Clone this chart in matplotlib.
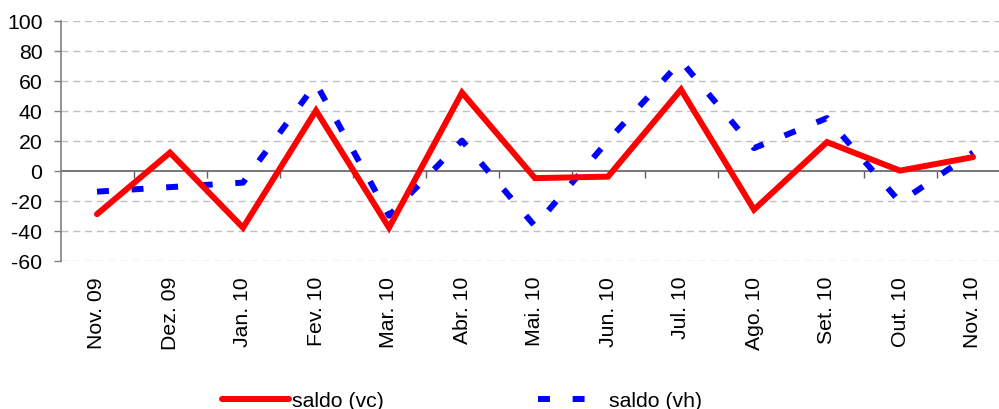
import matplotlib
matplotlib.use("Agg")
import matplotlib.pyplot as plt
import numpy as np

months = ["Nov. 09", "Dez. 09", "Jan. 10", "Fev. 10", "Mar. 10", "Abr. 10", "Mai. 10",
          "Jun. 10", "Jul. 10", "Ago. 10", "Set. 10", "Out. 10", "Nov. 10"]
saldo_vc = [-29, 12, -38, 40, -38, 52, -5, -4, 54, -26, 19, 0, 9]
saldo_vh = [-14, -11, -8, 58, -30, 20, -37, 20, 73, 15, 35, -21, 12]
y_ticks = [-60, -40, -20, 0, 20, 40, 60, 80, 100]

plt.rcParams['font.family'] = ['Liberation Sans', 'DejaVu Sans']
plt.rcParams['axes.unicode_minus'] = False
FS = 15.3

fig = plt.figure(figsize=(9.99, 4.10), dpi=100)
W, H = 999, 410
left_px, top_px, bottom_px = 60.5, 21.5, 261.7
cat_w = 73.0
ax = fig.add_axes([left_px / W, 1 - bottom_px / H, 13 * cat_w / W, (bottom_px - top_px) / H])

x = np.arange(len(months))
ax.plot(x, saldo_vc, color='#FF0000', lw=4.3, solid_capstyle='round', solid_joinstyle='miter',
        label='saldo (vc)', zorder=4)
ax.plot(x, saldo_vh, color='#0000FF', lw=4.3, dashes=(2.0, 3.8), dash_capstyle='butt',
        label='saldo (vh)', zorder=3)

ax.set_xlim(-0.5, len(months) - 0.5)
ax.set_ylim(-60, 100)
ax.set_yticks(y_ticks)
ax.tick_params(axis='y', direction='out', length=5, width=1, color='#808080', pad=8, labelsize=FS)

# grid lines (dashed), excluding zero
for v in y_ticks:
    if v != 0:
        ax.axhline(v, color='#C0C0C0', lw=1, dashes=(5, 3.5), zorder=1)

for s in ['top', 'right']:
    ax.spines[s].set_visible(False)
ax.spines['left'].set_color('#808080')
ax.spines['left'].set_linewidth(1.2)
ax.spines['bottom'].set_position(('data', 0))
ax.spines['bottom'].set_color('#606060')
ax.spines['bottom'].set_linewidth(1.2)
ax.spines['bottom'].set_zorder(2)

# boundary ticks on the zero line
ax.set_xticks(np.arange(0.5, len(months) - 0.5, 1.0))
ax.set_xticklabels([])
ax.tick_params(axis='x', direction='out', length=5, width=1, color='#606060')

# category labels at the bottom
sec = ax.secondary_xaxis(0.0)
sec.set_xticks(x)
sec.set_xticklabels(months, rotation=90, fontsize=FS)
sec.tick_params(axis='x', length=0, pad=11)
sec.spines['bottom'].set_visible(False)

leg = fig.legend(loc='upper left', bbox_to_anchor=(222 / W, 1 - 392 / H), ncol=2, frameon=False,
                 fontsize=FS, handlelength=3.16, handletextpad=0.15, columnspacing=7.25,
                 borderpad=0, borderaxespad=0)

fig.savefig('out.png', dpi=100)
